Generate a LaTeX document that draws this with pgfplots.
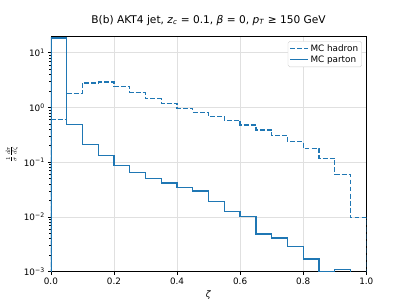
\documentclass[border=0pt]{standalone}
\usepackage{pgfplots}
\pgfplotsset{compat=1.18}
\usepackage{fontspec}
\setmainfont{DejaVu Sans}
\definecolor{tabblue}{HTML}{1F77B4}

\pgfplotstableread{
x y
0.00 1e-6
0.00 0.60
0.05 1.80
0.10 2.82
0.15 2.94
0.20 2.45
0.25 1.88
0.30 1.44
0.35 1.18
0.40 0.97
0.45 0.81
0.50 0.69
0.55 0.58
0.60 0.48
0.65 0.39
0.70 0.31
0.75 0.24
0.80 0.18
0.85 0.118
0.90 0.060
0.95 0.0097
1.00 0.0097
1.00 1e-6
}\hadron

\pgfplotstableread{
x y
0.00 1e-6
0.00 18.5
0.05 0.49
0.10 0.21
0.15 0.131
0.20 0.088
0.25 0.065
0.30 0.051
0.35 0.042
0.40 0.035
0.45 0.030
0.50 0.0194
0.55 0.0126
0.60 0.0102
0.65 0.0049
0.70 0.0041
0.75 0.0029
0.80 0.0017
0.85 0.0010
0.90 0.0011
0.95 1e-6
1.00 1e-6
}\parton

\begin{document}
\begin{tikzpicture}
\useasboundingbox (0,0) rectangle (460.8pt,345.6pt);
\begin{axis}[
  at={(57.6pt,38pt)}, anchor=south west,
  scale only axis, width=357.1pt, height=266.1pt,
  ymode=log, xmin=0, xmax=1, ymin=1e-3, ymax=19.7,
  xtick={0,0.2,0.4,0.6,0.8,1.0},
  xticklabels={0.0,0.2,0.4,0.6,0.8,1.0},
  ytick={1e-3,1e-2,1e-1,1,10},
  yticklabels={10\textsuperscript{−3},10\textsuperscript{−2},10\textsuperscript{−1},10\textsuperscript{0},10\textsuperscript{1}},
  minor ytick={2e-3,3e-3,4e-3,5e-3,6e-3,7e-3,8e-3,9e-3,2e-2,3e-2,4e-2,5e-2,6e-2,7e-2,8e-2,9e-2,2e-1,3e-1,4e-1,5e-1,6e-1,7e-1,8e-1,9e-1,2,3,4,5,6,7,8,9,20},
  tick pos=left, tick align=outside,
  major tick length=3.5pt, minor tick length=2pt,
  every tick/.style={black, line width=0.8pt},
  minor tick style={line width=0.6pt},
  axis line style={line width=0.8pt},
  ymajorgrids, xmajorgrids,
  major grid style={black!12, line width=0.8pt},
  ticklabel style={font=\fontsize{10}{12}\selectfont},
  title={B(b) AKT4 jet, \textit{z}\textsubscript{\textit{c}} = 0.1, \textit{β} = 0, \textit{p}\textsubscript{\textit{T}} ≥ 150 GeV},
  title style={font=\fontsize{12}{14}\selectfont, at={(0.5,1)}, anchor=south, yshift=3pt},
  xlabel={\textit{ζ}},
  xlabel style={font=\fontsize{10}{12}\selectfont},
  ylabel={$\frac{1}{\sigma}\frac{d\sigma}{d\zeta}$},
  ylabel style={font=\fontsize{10}{12}\selectfont},
  legend cell align=left,
  legend style={at={(1,1)}, xshift=-5pt, yshift=-5pt, anchor=north east,
    draw=black!20, rounded corners=2pt, font=\fontsize{10}{12}\selectfont,
    inner sep=2pt, row sep=-1pt},
  legend image code/.code={\draw[#1] (0pt,0pt) -- (20pt,0pt);},
]
\addplot[const plot mark left, tabblue, line width=1.5pt, dash pattern=on 5.55pt off 2.4pt] table[x=x,y=y] {\hadron};
\addlegendentry{MC hadron}
\addplot[const plot mark left, tabblue, line width=1.5pt] table[x=x,y=y] {\parton};
\addlegendentry{MC parton}
\end{axis}
\end{tikzpicture}
\end{document}
